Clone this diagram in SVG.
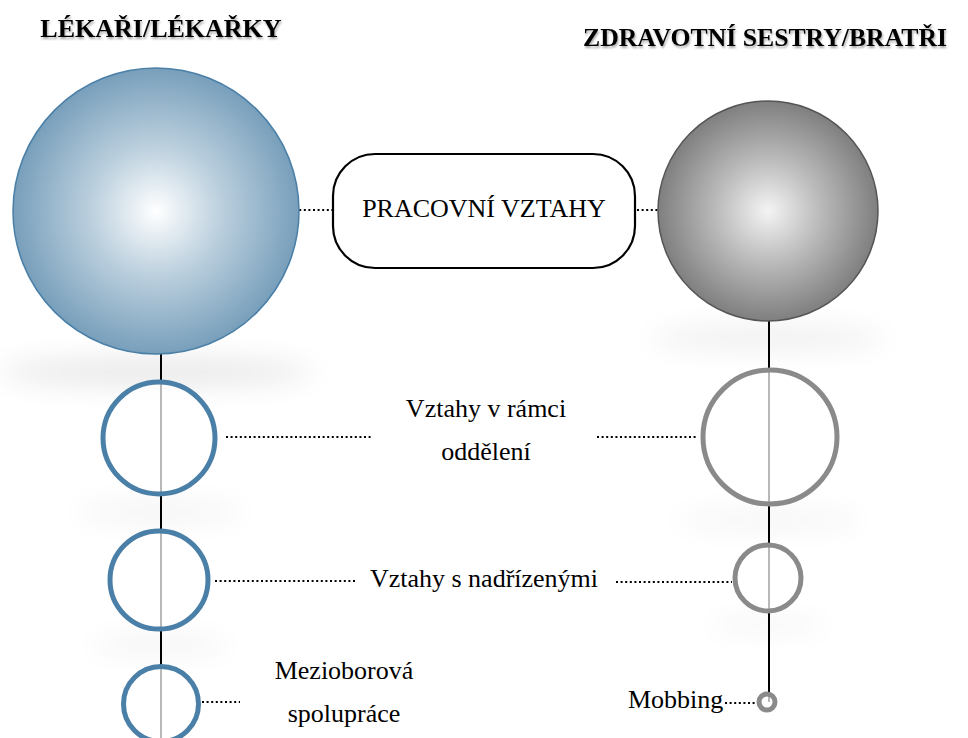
<svg xmlns="http://www.w3.org/2000/svg" width="968" height="738" viewBox="0 0 968 738">
<defs>
<radialGradient id="gBlue" cx="0.5" cy="0.5" r="0.5">
<stop offset="0" stop-color="#ffffff"/>
<stop offset="0.45" stop-color="#bcd0de"/>
<stop offset="1" stop-color="#789fbb"/>
</radialGradient>
<radialGradient id="gGray" cx="0.5" cy="0.5" r="0.5">
<stop offset="0" stop-color="#f4f4f4"/>
<stop offset="0.45" stop-color="#bdbdbd"/>
<stop offset="1" stop-color="#7f7f7f"/>
</radialGradient>
<filter id="blur" x="-50%" y="-100%" width="200%" height="300%">
<feGaussianBlur stdDeviation="14"/>
</filter>
<filter id="tsh" x="-5%" y="-20%" width="110%" height="140%">
<feGaussianBlur in="SourceAlpha" stdDeviation="1"/>
<feOffset dx="1" dy="1.5" result="o"/>
<feComponentTransfer><feFuncA type="linear" slope="0.35"/></feComponentTransfer>
<feMerge><feMergeNode/><feMergeNode in="SourceGraphic"/></feMerge>
</filter>
</defs>
<style>
.t{font-family:"Liberation Serif","Times New Roman",serif;fill:#000}
.title{font-weight:bold;font-size:26px}
.lbl{font-size:26px}
.dot{stroke:#000;stroke-width:2;stroke-dasharray:2 2.6;fill:none}
.ln{stroke:#000;stroke-width:2;fill:none}
.ringB{fill:#fff;fill-opacity:0.72;stroke:#4a7fa7;stroke-width:5}
.ringG{fill:#fff;fill-opacity:0.72;stroke:#8a8a8a;stroke-width:5}
.sh{fill:#000;filter:url(#blur)}
</style>
<rect width="968" height="738" fill="#fff"/>
<g id="shadows">
<ellipse class="sh" cx="156" cy="372" rx="160" ry="14" opacity="0.09"/>
<ellipse class="sh" cx="768" cy="338" rx="120" ry="11" opacity="0.07"/>
<ellipse class="sh" cx="160" cy="512" rx="85" ry="9" opacity="0.06"/>
<ellipse class="sh" cx="769" cy="520" rx="95" ry="9" opacity="0.05"/>
<ellipse class="sh" cx="160" cy="645" rx="70" ry="8" opacity="0.06"/>
<ellipse class="sh" cx="768" cy="625" rx="60" ry="7" opacity="0.05"/>
</g>
<g id="connectors">
<line class="ln" x1="161" y1="352" x2="161" y2="738"/>
<line class="ln" x1="769" y1="318" x2="769" y2="702"/>
<line class="dot" x1="290" y1="210" x2="332" y2="210"/>
<line class="dot" x1="637" y1="210" x2="668" y2="210"/>
<line class="dot" x1="226" y1="437" x2="372" y2="437"/>
<line class="dot" x1="597" y1="437" x2="698" y2="437"/>
<line class="dot" x1="215" y1="581" x2="355" y2="581"/>
<line class="dot" x1="616" y1="582" x2="732" y2="582"/>
<line class="dot" x1="202" y1="702" x2="240" y2="702"/>
<line class="dot" x1="725" y1="703" x2="757" y2="703"/>
</g>
<g id="title-left"><text class="t title" x="161" y="37" text-anchor="middle" filter="url(#tsh)">LÉKAŘI/LÉKAŘKY</text></g>
<g id="title-right"><text class="t title" x="765" y="46" text-anchor="middle" textLength="364" lengthAdjust="spacingAndGlyphs" filter="url(#tsh)">ZDRAVOTNÍ SESTRY/BRATŘI</text></g>
<g id="node-lekari"><circle cx="156" cy="211" r="143" fill="url(#gBlue)" stroke="#4a7fa7" stroke-width="1.5"/></g>
<g id="node-sestry"><circle cx="768" cy="211" r="110" fill="url(#gGray)" stroke="#555" stroke-width="1.5"/></g>
<g id="node-pracovni">
<rect x="333" y="154" width="302" height="114" rx="42" ry="42" fill="#fff" stroke="#000" stroke-width="2.2"/>
<text class="t lbl" x="484" y="217" text-anchor="middle">PRACOVNÍ VZTAHY</text>
</g>
<g id="ring-l1"><circle class="ringB" cx="159" cy="438" r="56"/></g>
<g id="ring-r1"><circle class="ringG" cx="770" cy="437" r="67"/></g>
<g id="ring-l2"><circle class="ringB" cx="159" cy="580" r="49"/></g>
<g id="ring-r2"><circle class="ringG" cx="768" cy="578" r="33"/></g>
<g id="ring-l3"><circle class="ringB" cx="161" cy="704" r="37.5"/></g>
<g id="ring-r3"><circle class="ringG" cx="767" cy="702" r="8" stroke-width="4.5"/></g>
<g id="label-oddeleni">
<text class="t lbl" x="486" y="417" text-anchor="middle">Vztahy v rámci</text>
<text class="t lbl" x="486" y="460" text-anchor="middle">oddělení</text>
</g>
<g id="label-nadrizeni"><text class="t lbl" x="484" y="587" text-anchor="middle">Vztahy s nadřízenými</text></g>
<g id="label-mezioborova">
<text class="t lbl" x="344" y="679" text-anchor="middle">Mezioborová</text>
<text class="t lbl" x="344" y="722" text-anchor="middle">spolupráce</text>
</g>
<g id="label-mobbing"><text class="t lbl" x="628" y="708">Mobbing</text></g>
</svg>
